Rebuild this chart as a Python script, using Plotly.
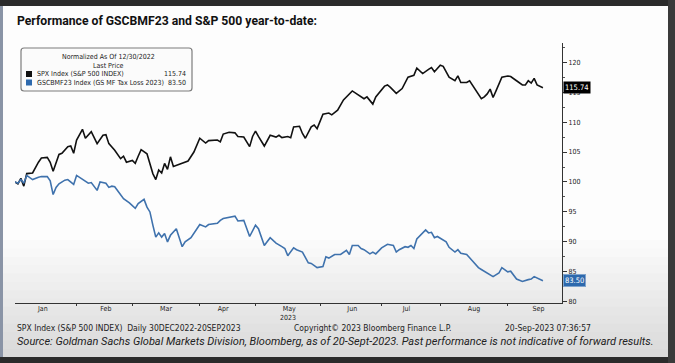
import plotly.graph_objects as go

# ---------------- data ----------------
title_text = "Performance of GSCBMF23 and S&P 500 year-to-date:"
spx_name = "SPX Index (S&P 500 INDEX)"
gs_name = "GSCBMF23 Index (GS MF Tax Loss 2023)"
legend_header = ["Normalized As Of 12/30/2022", "Last Price"]

spx_dates = [
    "2022-12-30", "2023-01-03", "2023-01-04", "2023-01-05", "2023-01-06", "2023-01-10", "2023-01-12", "2023-01-13", "2023-01-18", "2023-01-19",
    "2023-01-20", "2023-01-24", "2023-01-25", "2023-01-27", "2023-01-30", "2023-01-31", "2023-02-01", "2023-02-03", "2023-02-06", "2023-02-08",
    "2023-02-10", "2023-02-14", "2023-02-15", "2023-02-16", "2023-02-21", "2023-02-23", "2023-02-24", "2023-02-27", "2023-03-01", "2023-03-02",
    "2023-03-03", "2023-03-06", "2023-03-08", "2023-03-09", "2023-03-10", "2023-03-13", "2023-03-14", "2023-03-15", "2023-03-16", "2023-03-17",
    "2023-03-20", "2023-03-21", "2023-03-24", "2023-03-28", "2023-03-30", "2023-04-03", "2023-04-05", "2023-04-06", "2023-04-12", "2023-04-13",
    "2023-04-14", "2023-04-18", "2023-04-20", "2023-04-21", "2023-04-25", "2023-04-27", "2023-04-28", "2023-05-01", "2023-05-02", "2023-05-03",
    "2023-05-04", "2023-05-08", "2023-05-10", "2023-05-11", "2023-05-12", "2023-05-16", "2023-05-17", "2023-05-18", "2023-05-22", "2023-05-23",
    "2023-05-24", "2023-05-26", "2023-05-30", "2023-05-31", "2023-06-02", "2023-06-06", "2023-06-07", "2023-06-09", "2023-06-13", "2023-06-16",
    "2023-06-21", "2023-06-23", "2023-06-26", "2023-06-28", "2023-06-29", "2023-06-30", "2023-07-05", "2023-07-06", "2023-07-07", "2023-07-11",
    "2023-07-13", "2023-07-17", "2023-07-19", "2023-07-20", "2023-07-24", "2023-07-26", "2023-07-27", "2023-07-28", "2023-08-01", "2023-08-02",
    "2023-08-04", "2023-08-08", "2023-08-09", "2023-08-10", "2023-08-14", "2023-08-15", "2023-08-17", "2023-08-21", "2023-08-22", "2023-08-23",
    "2023-08-24", "2023-08-25", "2023-08-28", "2023-08-30", "2023-09-01", "2023-09-05", "2023-09-07", "2023-09-11", "2023-09-12", "2023-09-13",
    "2023-09-14", "2023-09-15", "2023-09-18", "2023-09-20",
]
spx_values = [
    100.0, 99.7, 100.6, 99.3, 101.4, 101.5, 103.3, 104.0, 104.1, 103.3,
    101.8, 104.6, 104.8, 105.9, 106.0, 104.8, 107.0, 108.8, 107.3, 108.4,
    106.4, 107.8, 107.9, 106.4, 105.3, 103.9, 104.3, 103.3, 103.6, 103.1,
    104.3, 105.4, 104.7, 102.8, 101.4, 100.4, 102.0, 101.5, 103.1, 102.1,
    104.2, 102.6, 103.2, 103.5, 105.0, 107.3, 106.5, 106.9, 107.0, 106.7,
    108.0, 108.3, 108.2, 107.6, 107.5, 105.9, 107.6, 108.5, 107.6, 106.7,
    106.0, 107.8, 107.5, 107.8, 107.4, 107.6, 107.4, 109.2, 109.3, 108.1,
    107.3, 109.2, 109.5, 108.9, 111.3, 111.5, 111.2, 112.0, 113.7, 115.2,
    114.5, 113.9, 114.2, 113.0, 114.2, 114.8, 116.0, 116.2, 115.8, 114.8,
    115.6, 117.5, 117.8, 119.0, 118.1, 118.8, 119.1, 118.4, 119.5, 119.3,
    117.5, 116.9, 117.7, 116.6, 116.6, 116.9, 115.3, 113.9, 114.2, 114.7,
    115.5, 114.1, 115.2, 117.5, 117.7, 117.6, 116.9, 116.2, 116.2, 116.9,
    116.5, 117.3, 116.2, 115.74,
]

gs_dates = [
    "2022-12-30", "2023-01-03", "2023-01-04", "2023-01-05", "2023-01-06", "2023-01-10", "2023-01-12", "2023-01-13", "2023-01-18", "2023-01-19",
    "2023-01-20", "2023-01-23", "2023-01-24", "2023-01-26", "2023-01-27", "2023-01-31", "2023-02-01", "2023-02-03", "2023-02-07", "2023-02-08",
    "2023-02-10", "2023-02-13", "2023-02-15", "2023-02-16", "2023-02-17", "2023-02-21", "2023-02-23", "2023-02-24", "2023-02-28", "2023-03-02",
    "2023-03-03", "2023-03-07", "2023-03-08", "2023-03-09", "2023-03-10", "2023-03-13", "2023-03-14", "2023-03-15", "2023-03-16", "2023-03-17",
    "2023-03-20", "2023-03-22", "2023-03-24", "2023-03-27", "2023-03-29", "2023-03-30", "2023-04-03", "2023-04-05", "2023-04-06", "2023-04-12",
    "2023-04-13", "2023-04-14", "2023-04-17", "2023-04-19", "2023-04-20", "2023-04-21", "2023-04-25", "2023-04-27", "2023-04-28", "2023-05-01",
    "2023-05-02", "2023-05-04", "2023-05-08", "2023-05-10", "2023-05-12", "2023-05-15", "2023-05-16", "2023-05-18", "2023-05-19", "2023-05-23",
    "2023-05-25", "2023-05-26", "2023-05-31", "2023-06-02", "2023-06-05", "2023-06-06", "2023-06-08", "2023-06-12", "2023-06-14", "2023-06-15",
    "2023-06-16", "2023-06-21", "2023-06-22", "2023-06-23", "2023-06-27", "2023-06-28", "2023-06-29", "2023-07-03", "2023-07-06", "2023-07-10",
    "2023-07-11", "2023-07-12", "2023-07-14", "2023-07-17", "2023-07-18", "2023-07-19", "2023-07-20", "2023-07-24", "2023-07-25", "2023-07-26",
    "2023-07-27", "2023-07-28", "2023-07-31", "2023-08-03", "2023-08-04", "2023-08-08", "2023-08-09", "2023-08-10", "2023-08-14", "2023-08-16",
    "2023-08-18", "2023-08-21", "2023-08-23", "2023-08-25", "2023-08-29", "2023-08-30", "2023-09-01", "2023-09-05", "2023-09-07", "2023-09-11",
    "2023-09-13", "2023-09-14", "2023-09-15", "2023-09-19", "2023-09-20",
]
gs_values = [
    100.0, 99.8, 100.4, 99.8, 101.1, 100.4, 100.8, 100.9, 100.9, 100.2,
    97.9, 99.1, 99.7, 100.3, 100.4, 99.6, 101.1, 100.4, 99.8, 99.9,
    98.6, 100.0, 99.8, 99.1, 99.3, 99.2, 97.8, 97.2, 96.5, 95.6,
    96.4, 97.1, 95.8, 95.0, 92.8, 90.8, 91.5, 90.8, 91.4, 90.0,
    91.1, 92.2, 89.2, 90.0, 90.7, 91.5, 92.9, 92.5, 92.9, 93.1,
    93.6, 93.9, 94.0, 94.3, 94.3, 93.5, 93.6, 90.9, 92.0, 92.8,
    92.2, 89.4, 90.7, 89.8, 89.2, 88.9, 87.7, 89.0, 88.7, 88.3,
    86.5, 86.4, 85.7, 85.9, 87.5, 87.3, 87.9, 87.9, 88.6, 87.9,
    89.4, 89.4, 88.9, 88.7, 88.0, 88.3, 88.0, 89.0, 89.6, 89.4,
    88.3, 88.7, 89.2, 89.1, 89.4, 88.9, 90.5, 91.5, 92.0, 91.5,
    91.6, 90.7, 90.9, 90.0, 89.1, 88.3, 88.7, 88.1, 87.9, 86.8,
    85.7, 85.4, 84.8, 84.2, 84.8, 85.7, 85.0, 85.1, 83.8, 83.4,
    83.7, 83.8, 84.2, 83.7, 83.50,
]

market_holidays = ["2023-01-02", "2023-01-16", "2023-02-20", "2023-04-07",
                   "2023-05-29", "2023-06-19", "2023-07-04", "2023-09-04"]

footer_left = "SPX Index (S&P 500 INDEX)  Daily 30DEC2022-20SEP2023"
footer_mid = "Copyright\u00a9 2023 Bloomberg Finance L.P."
footer_right = "20-Sep-2023 07:36:57"
source_text = ("Source: Goldman Sachs Global Markets Division, Bloomberg, as of 20-Sept-2023. "
               "Past performance is not indicative of forward results.")
year_label = "2023"

# ---------------- styling ----------------
BLACK = "#111111"
BLUE = "#3f72ad"
TAG_BLUE = "#2d69ad"
NARROW = "Liberation Sans Narrow, DejaVu Sans Condensed, Roboto Condensed, Arial Narrow, sans-serif"
W, H = 675, 363
L, R, T, B = 15, 113, 43, 60
PW, PH = W - L - R, H - T - B


def xp(px):
    return (px - L) / PW


def yp(py):
    return (H - B - py) / PH


fig = go.Figure()
fig.add_trace(go.Scatter(x=spx_dates, y=spx_values, mode="lines", name=spx_name,
                         line=dict(color=BLACK, width=1.6), showlegend=False))
fig.add_trace(go.Scatter(x=gs_dates, y=gs_values, mode="lines", name=gs_name,
                         line=dict(color=BLUE, width=1.6), showlegend=False))

shapes = []
# background gradient (bottom greying)
n = 14
top_px, bot_px = 240, 357
for i in range(n):
    y0 = top_px + (bot_px - top_px) * i / n
    g = int(253 - (253 - 218) * (i + 1) / n)
    shapes.append(dict(type="rect", xref="paper", yref="paper", layer="below",
                       x0=xp(0), x1=xp(W), y0=yp(y0), y1=yp(bot_px),
                       fillcolor=f"rgb({g},{g},{g})", line=dict(width=0), opacity=1))
# frame borders
shapes.append(dict(type="rect", xref="paper", yref="paper", layer="above",
                   x0=xp(0), x1=xp(W), y0=yp(0), y1=yp(6), fillcolor="#2b2b2b", line=dict(width=0)))
shapes.append(dict(type="rect", xref="paper", yref="paper", layer="above",
                   x0=xp(0), x1=xp(W), y0=yp(357), y1=yp(H), fillcolor="#2b2b2b", line=dict(width=0)))
shapes.append(dict(type="rect", xref="paper", yref="paper", layer="above",
                   x0=xp(668), x1=xp(W), y0=yp(0), y1=yp(H), fillcolor="#3a3a3a", line=dict(width=0)))
shapes.append(dict(type="rect", xref="paper", yref="paper", layer="above",
                   x0=xp(0), x1=xp(3), y0=yp(6), y1=yp(357), fillcolor="#8a94a6", line=dict(width=0)))

# legend box with rounded corners
bx0, bx1, by0, by1, rr = 21, 192, 48, 91, 3
path = (f"M {xp(bx0 + rr)},{yp(by0)} L {xp(bx1 - rr)},{yp(by0)} Q {xp(bx1)},{yp(by0)} {xp(bx1)},{yp(by0 + rr)} "
        f"L {xp(bx1)},{yp(by1 - rr)} Q {xp(bx1)},{yp(by1)} {xp(bx1 - rr)},{yp(by1)} "
        f"L {xp(bx0 + rr)},{yp(by1)} Q {xp(bx0)},{yp(by1)} {xp(bx0)},{yp(by1 - rr)} "
        f"L {xp(bx0)},{yp(by0 + rr)} Q {xp(bx0)},{yp(by0)} {xp(bx0 + rr)},{yp(by0)} Z")
shapes.append(dict(type="path", xref="paper", yref="paper", path=path, layer="above",
                   fillcolor="#fbfbfb", line=dict(color="#7d7d7d", width=1.2)))
shapes.append(dict(type="rect", xref="paper", yref="paper", layer="above",
                   x0=xp(26), x1=xp(32), y0=yp(71), y1=yp(77), fillcolor=BLACK, line=dict(width=0)))
shapes.append(dict(type="rect", xref="paper", yref="paper", layer="above",
                   x0=xp(26), x1=xp(32), y0=yp(79.5), y1=yp(85.5), fillcolor=TAG_BLUE, line=dict(width=0)))

ann = []
ann.append(dict(text=f"<b>{title_text}</b>", xref="paper", yref="paper", x=xp(15), y=yp(21),
                xanchor="left", yanchor="middle", showarrow=False,
                font=dict(family="Roboto, Liberation Sans, sans-serif", size=12.2, color="#111")))
for txt, py in zip(legend_header, [57.3, 65.5]):
    ann.append(dict(text=txt, xref="paper", yref="paper", x=xp(108), y=yp(py), xanchor="center",
                    yanchor="middle", showarrow=False, font=dict(family=NARROW, size=7, color="#222")))
for name, val, py in [(spx_name, spx_values[-1], 74.3), (gs_name, gs_values[-1], 82.5)]:
    ann.append(dict(text=name, xref="paper", yref="paper", x=xp(35), y=yp(py), xanchor="left",
                    yanchor="middle", showarrow=False, font=dict(family=NARROW, size=7, color="#222")))
    ann.append(dict(text=f"{val:.2f}", xref="paper", yref="paper", x=xp(188), y=yp(py), xanchor="right",
                    yanchor="middle", showarrow=False, font=dict(family=NARROW, size=7, color="#222")))
# last-value tags on the axis
ann.append(dict(text=f"{spx_values[-1]:.2f}", xref="paper", yref="y", x=1, y=spx_values[-1],
                xanchor="left", yanchor="middle", xshift=1, showarrow=False, bgcolor="#000",
                borderpad=1, font=dict(family=NARROW, size=7.5, color="#fff")))
ann.append(dict(text=f"{gs_values[-1]:.2f}", xref="paper", yref="y", x=1, y=gs_values[-1],
                xanchor="left", yanchor="middle", xshift=1, showarrow=False, bgcolor=TAG_BLUE,
                bordercolor="#7fa3cc", borderwidth=1, borderpad=1,
                font=dict(family=NARROW, size=7.5, color="#fff")))
# year label under May
ann.append(dict(text=year_label, xref="x", yref="paper", x="2023-05-16", y=yp(318), xanchor="center",
                yanchor="middle", showarrow=False, font=dict(family=NARROW, size=7, color="#222")))
# footer
for txt, px in [(footer_left, 15), (footer_mid, 292), (footer_right, 503)]:
    ann.append(dict(text=txt, xref="paper", yref="paper", x=xp(px), y=yp(328), xanchor="left",
                    yanchor="middle", showarrow=False, font=dict(family=NARROW, size=8.5, color="#222")))
ann.append(dict(text=f"<i>{source_text}</i>", xref="paper", yref="paper", x=xp(15), y=yp(341),
                xanchor="left", yanchor="middle", showarrow=False,
                font=dict(family="Roboto, Liberation Sans, sans-serif", size=11, color="#222")))

fig.update_layout(
    width=W, height=H, margin=dict(l=L, r=R, t=T, b=B, pad=0),
    paper_bgcolor="#fdfdfd", plot_bgcolor="rgba(0,0,0,0)",
    shapes=shapes, annotations=ann, showlegend=False,
    xaxis=dict(type="date", range=["2022-12-30", "2023-09-28 12:00"],
               rangebreaks=[dict(bounds=["sat", "mon"]), dict(values=market_holidays)],
               dtick="M1", tick0="2023-01-01", tickformat="%b", ticklabelmode="period",
               showgrid=False, zeroline=False, showline=True, linecolor="#333", linewidth=1,
               ticks="outside", ticklen=2, tickcolor="#333", ticklabelstandoff=-3,
               tickfont=dict(family=NARROW, size=7, color="#222")),
    yaxis=dict(side="right", range=[79.8, 123.2], tick0=80, dtick=5,
               showgrid=False, zeroline=False, showline=True, linecolor="#333", linewidth=1,
               ticks="outside", ticklen=4, tickcolor="#333",
               minor=dict(dtick=2.5, ticks="outside", ticklen=2, tickcolor="#555"),
               tickfont=dict(family=NARROW, size=7, color="#222")),
)

fig.write_html("out.html", config={"displayModeBar": False},
               post_script="document.body.style.margin='0';document.body.style.overflow='hidden';")
